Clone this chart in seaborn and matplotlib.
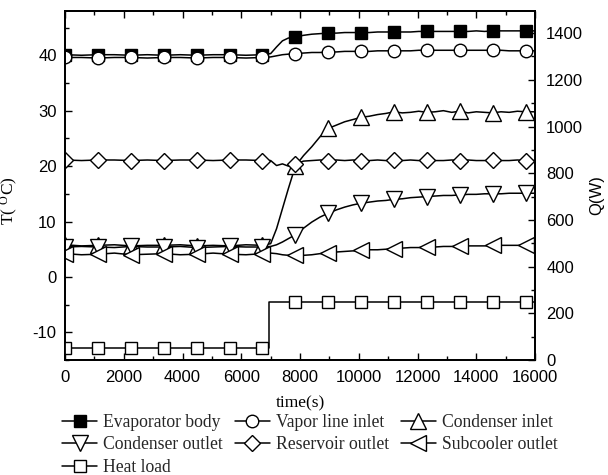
import numpy as np
import pandas as pd
import matplotlib
matplotlib.use("Agg")
import matplotlib.pyplot as plt
from matplotlib.lines import Line2D
from matplotlib.ticker import MultipleLocator
import seaborn as sns

# ---------------- data ----------------
t = [0, 560, 1120, 1680, 2240, 2800, 3360, 3920, 4480, 5040, 5600, 6160, 6720,
     7000, 7200, 7400, 7600,
     7840, 8120, 8400, 8680, 8960, 9240, 9520, 9800, 10080, 10360, 10640, 10920,
     11200, 11480, 11760, 12040, 12320, 12600, 12880, 13160, 13440, 13720, 14000,
     14280, 14560, 14840, 15120, 15400, 15680,
     16000]

evaporator_body = [40.1, 40.0, 40.1, 40.1, 40.0, 40.1, 40.0, 40.1, 40.0, 40.1, 40.1, 40.0, 40.1,
                   40.3, 41.5, 42.6, 43.1,
                   43.3, 43.6, 43.8, 43.9, 44.0, 44.0, 44.1, 44.1, 44.1, 44.1, 44.2, 44.2,
                   44.2, 44.2, 44.2, 44.3, 44.3, 44.3, 44.3, 44.3, 44.3, 44.3, 44.4,
                   44.3, 44.4, 44.4, 44.4, 44.4, 44.4,
                   44.4]

vapor_line_inlet = [39.6, 39.6, 39.5, 39.6, 39.6, 39.5, 39.6, 39.6, 39.5, 39.6, 39.6, 39.5, 39.6,
                    39.7, 39.9, 40.1, 40.2,
                    40.3, 40.4, 40.5, 40.5, 40.6, 40.6, 40.7, 40.7, 40.7, 40.7, 40.8, 40.8,
                    40.8, 40.8, 40.8, 40.9, 40.9, 40.9, 40.9, 40.9, 40.9, 40.9, 40.9,
                    40.9, 40.9, 40.9, 40.8, 40.8, 40.8,
                    40.8]

condenser_inlet = [5.8, 5.6, 5.7, 5.8, 5.6, 5.7, 5.7, 5.8, 5.6, 5.7, 5.6, 5.8, 5.7,
                   6.0, 8.7, 12.3, 15.9,
                   20.0, 21.9, 23.5, 25.3, 26.8, 27.4, 28.0, 28.4, 28.8, 29.0, 29.3, 29.5,
                   29.8, 29.6, 29.7, 29.9, 29.7, 29.8, 30.0, 29.7, 29.9, 29.6, 29.8,
                   29.7, 29.6, 29.8, 29.7, 29.9, 29.8,
                   29.8]

condenser_outlet = [5.4, 5.5, 5.4, 5.3, 5.5, 5.4, 5.4, 5.5, 5.3, 5.4, 5.5, 5.4, 5.4,
                    5.5, 5.8, 6.3, 6.9,
                    7.6, 8.8, 9.9, 10.8, 11.5, 12.1, 12.6, 13.0, 13.3, 13.5, 13.7, 13.8,
                    14.0, 14.1, 14.3, 14.4, 14.5, 14.6, 14.7, 14.7, 14.8, 14.9, 14.9,
                    15.0, 15.0, 15.0, 15.1, 15.1, 15.1,
                    15.1]

reservoir_outlet = [21.1, 21.0, 21.1, 21.1, 21.0, 21.1, 21.0, 21.1, 21.1, 21.0, 21.1, 21.1, 21.0,
                    21.0, 20.1, 20.4, 20.0,
                    20.4, 20.9, 21.0, 21.1, 21.0, 21.1, 21.0, 21.1, 21.0, 21.0, 21.1, 21.0,
                    21.1, 21.0, 21.1, 21.0, 21.1, 21.0, 21.0, 21.1, 21.0, 21.1, 21.0,
                    21.0, 21.1, 21.0, 21.0, 21.1, 21.0,
                    21.0]

subcooler_outlet = [4.2, 4.0, 4.1, 4.3, 4.0, 4.1, 4.2, 4.0, 4.1, 4.3, 4.1, 4.0, 4.2,
                    4.3, 4.2, 4.0, 3.9,
                    3.9, 3.9, 4.0, 4.2, 4.4, 4.5, 4.6, 4.7, 4.8, 4.9, 4.9, 5.0,
                    5.1, 5.2, 5.3, 5.3, 5.4, 5.4, 5.5, 5.5, 5.5, 5.6, 5.6,
                    5.6, 5.7, 5.7, 5.7, 5.7, 5.7,
                    5.7]

t_heat = [0, 1120, 2240, 3360, 4480, 5600, 6720, 6950, 6950,
          7840, 8960, 10080, 11200, 12320, 13440, 14560, 15680, 16000]
heat_load = [50, 50, 50, 50, 50, 50, 50, 50, 250,
             250, 250, 250, 250, 250, 250, 250, 250, 250]

marker_times = [0, 1120, 2240, 3360, 4480, 5600, 6720, 7840, 8960,
                10080, 11200, 12320, 13440, 14560, 15680]

labels = ["Evaporator body", "Vapor line inlet", "Condenser inlet",
          "Condenser outlet", "Reservoir outlet", "Subcooler outlet", "Heat load"]

# ---------------- style ----------------
sns.set_theme(style="ticks")
plt.rcParams["font.family"] = ["Liberation Sans", "DejaVu Sans"]
plt.rcParams["axes.unicode_minus"] = False
plt.rcParams["mathtext.fontset"] = "custom"
plt.rcParams["mathtext.rm"] = "Liberation Serif"
plt.rcParams["mathtext.it"] = "Liberation Serif:italic"

fig = plt.figure(figsize=(6.08, 4.75), dpi=100)
ax = fig.add_axes([0.107, 0.242, 0.773, 0.735])
ax2 = ax.twinx()

lw = 1.1
mew = 1.0
series = [
    (evaporator_body, "s", "black", 8.5),
    (vapor_line_inlet, "o", "white", 9.0),
    (condenser_inlet, "^", "white", 11.0),
    (condenser_outlet, "v", "white", 11.0),
    (reservoir_outlet, "D", "white", 8.5),
    (subcooler_outlet, "<", "white", 11.0),
]

handles = []
for (vals, mk, fc, ms), lab in zip(series, labels[:6]):
    df = pd.DataFrame({"t": t, "v": vals})
    me = [i for i, v in enumerate(t) if v in marker_times]
    sns.lineplot(data=df, x="t", y="v", ax=ax, color="black", linewidth=lw,
                 estimator=None, sort=False, marker=mk, markersize=ms,
                 markerfacecolor=fc, markeredgecolor="black",
                 markeredgewidth=mew, markevery=me, legend=False)
    handles.append(Line2D([], [], color="black", linewidth=lw, marker=mk,
                          markersize=ms, markerfacecolor=fc,
                          markeredgecolor="black", markeredgewidth=mew))

dfq = pd.DataFrame({"t": t_heat, "q": heat_load})
me_q = [i for i, v in enumerate(t_heat) if v in marker_times]
sns.lineplot(data=dfq, x="t", y="q", ax=ax2, color="black", linewidth=lw,
             estimator=None, sort=False, marker="s", markersize=9.0,
             markerfacecolor="white", markeredgecolor="black",
             markeredgewidth=mew, markevery=me_q, legend=False)
handles.append(Line2D([], [], color="black", linewidth=lw, marker="s",
                      markersize=9.0, markerfacecolor="white",
                      markeredgecolor="black", markeredgewidth=mew))

# ---------------- axes ----------------
ax.set_xlim(0, 16000)
ax.set_ylim(-15, 48)
ax2.set_ylim(0, 1495)

ax.xaxis.set_major_locator(MultipleLocator(2000))
ax.xaxis.set_minor_locator(MultipleLocator(1000))
ax.yaxis.set_major_locator(MultipleLocator(10))
ax.yaxis.set_minor_locator(MultipleLocator(5))
ax2.yaxis.set_major_locator(MultipleLocator(200))
ax2.yaxis.set_minor_locator(MultipleLocator(100))

for a in (ax, ax2):
    for s in a.spines.values():
        s.set_linewidth(1.3)
        s.set_color("black")

ax.tick_params(axis="both", which="both", direction="in", top=True, right=False,
               color="black", width=1.0, labelsize=12, labelcolor="black")
ax.tick_params(which="major", length=5)
ax.tick_params(which="minor", length=3)
ax.tick_params(axis="x", pad=7)
ax.tick_params(axis="y", pad=6)
ax2.tick_params(axis="y", which="both", direction="in", right=True, left=False,
                color="black", width=1.0, labelsize=12, labelcolor="black", pad=8)
ax2.tick_params(which="major", length=5)
ax2.tick_params(which="minor", length=3)

ax.set_xlabel("time(s)", family=["Liberation Serif"], fontsize=12.5, color="black")
ax.xaxis.set_label_coords(0.5, -0.1)
ax.set_ylabel("T( $^{\\mathrm{O}}$C)", family=["Liberation Serif"], fontsize=12.5,
              color="black")
ax.yaxis.set_label_coords(-0.096, 0.456)
ax2.set_ylabel("Q(W)", fontsize=12, color="black")
ax2.yaxis.set_label_coords(1.115, 0.473)

# legend: ordered so rows read like the reference
order = [0, 3, 6, 1, 4, 2, 5]
leg = fig.legend([handles[i] for i in order], [labels[i] for i in order],
                 ncol=3, loc="upper left", bbox_to_anchor=(0.102, 0.128),
                 frameon=False, borderpad=0, borderaxespad=0,
                 handlelength=2.0, handletextpad=0.35, columnspacing=0.65,
                 labelspacing=0.3,
                 prop={"family": ["Liberation Serif"], "size": 12.7})

fig.savefig("out.png", dpi=100)
